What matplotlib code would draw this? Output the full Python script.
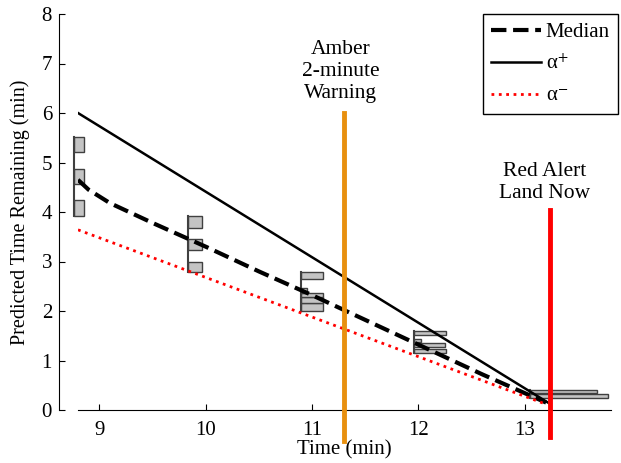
import numpy as np
import matplotlib.pyplot as plt

plt.rcParams['font.family'] = ['Liberation Serif', 'DejaVu Serif']
plt.rcParams['mathtext.fontset'] = 'stix'

# lines
alpha_plus_t = [8.80, 13.24]
alpha_plus_y = [6.00, 0.12]
alpha_minus_t = [8.80, 13.17]
alpha_minus_y = [3.64, 0.14]
median_t = [8.80, 8.90, 9.10, 9.50, 10.00, 10.50, 11.00, 11.50, 12.00, 12.60, 13.20]
median_y = [4.65, 4.45, 4.18, 3.78, 3.30, 2.80, 2.32, 1.82, 1.32, 0.72, 0.15]

# histograms of predictions: base time, bin bottoms, bin tops, widths (min)
hist_base = [8.76, 9.83, 10.90, 11.96, 13.05]
hist_lo = [[3.92, 4.57, 5.22],
           [2.78, 3.23, 3.67],
           [2.00, 2.16, 2.28, 2.36, 2.64],
           [1.15, 1.27, 1.38, 1.52],
           [0.25, 0.34]]
hist_hi = [[4.24, 4.87, 5.52],
           [3.00, 3.45, 3.92],
           [2.16, 2.28, 2.36, 2.46, 2.78],
           [1.23, 1.35, 1.44, 1.60],
           [0.32, 0.40]]
hist_w = [[0.094, 0.094, 0.094],
          [0.14, 0.14, 0.14],
          [0.20, 0.20, 0.20, 0.056, 0.20],
          [0.30, 0.29, 0.06, 0.30],
          [0.73, 0.63]]

amber_t = 11.30
red_t = 13.24

fig = plt.figure(figsize=(6.21, 4.63), dpi=100)
ax = fig.add_axes([78/621, 53/463, 533/621, 396/463])

for base, lo, hi, w in zip(hist_base, hist_lo, hist_hi, hist_w):
    lo = np.array(lo)
    hi = np.array(hi)
    ax.barh(lo, w, height=hi - lo, left=base, align='edge',
            color='#c4c4c4', edgecolor='#404040', linewidth=1, zorder=2,
            clip_on=False)
    ax.plot([base, base], [lo.min(), hi.max()], color='#404040', lw=1.5,
            zorder=2, clip_on=False)

ax.plot(median_t, median_y, 'k--', lw=3, label='Median', zorder=3)
ax.plot(alpha_plus_t, alpha_plus_y, 'k-', lw=1.8, label=r'α$^{+}$', zorder=3)
ax.plot(alpha_minus_t, alpha_minus_y, color='red', ls=':', lw=2, label=r'α$^{-}$', zorder=3)

ax.plot([amber_t, amber_t], [6.0, -0.63], color='#e8900f', lw=3.5, clip_on=False, zorder=4)
ax.plot([red_t, red_t], [4.05, -0.55], color='red', lw=3.5, clip_on=False, zorder=4)

ax.text(11.27, 6.84, 'Amber\n2-minute\nWarning', ha='center', va='center',
        fontsize=15.5, linespacing=1.2)
ax.text(13.19, 4.59, 'Red Alert\nLand Now', ha='center', va='center',
        fontsize=15.5, linespacing=1.2)

ax.set_xlim(8.8, 13.81)
ax.set_ylim(0, 8)
ax.set_xticks([9, 10, 11, 12, 13])
ax.set_yticks(range(9))
ax.spines['top'].set_visible(False)
ax.spines['right'].set_visible(False)
ax.spines['left'].set_position(('outward', 13.7))
ax.tick_params(axis='both', direction='in', labelsize=15, length=4)
ax.tick_params(axis='x', pad=8)
ax.tick_params(axis='y', pad=5)
ax.set_xlabel('Time (min)', fontsize=15, labelpad=0)
ax.set_ylabel('Predicted Time Remaining (min)', fontsize=14.5, labelpad=8)

leg = ax.legend(loc='upper right', bbox_to_anchor=(618/621, 1 - 14/463),
                bbox_transform=fig.transFigure, borderaxespad=0, fancybox=False,
                edgecolor='black', framealpha=1, fontsize=15, handlelength=2.4,
                handletextpad=0.2, labelspacing=0.6)
leg.get_frame().set_linewidth(1)

fig.savefig('out.png', dpi=100)
